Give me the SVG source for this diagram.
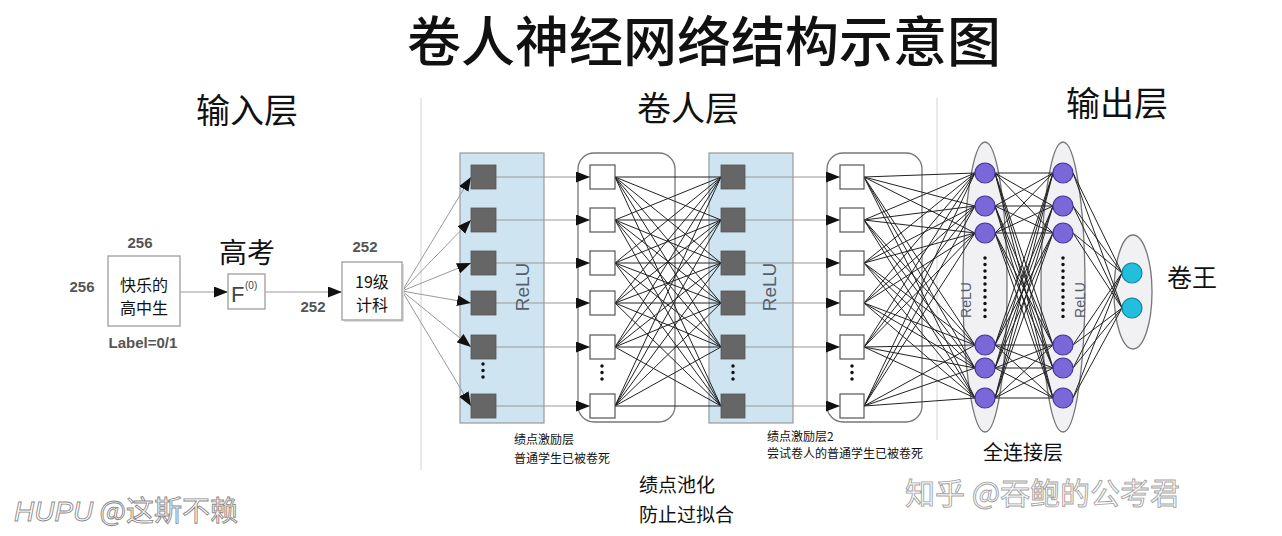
<svg xmlns="http://www.w3.org/2000/svg" width="1282" height="536" viewBox="0 0 1282 536">
<defs>
<marker id="ah" viewBox="0 0 14 11" refX="14" refY="5.5" markerWidth="14" markerHeight="11" markerUnits="userSpaceOnUse" orient="auto">
<path d="M0 0L14 5.5L0 11z" fill="#111"/>
</marker>
<style>
.cjk{font-family:"Noto Sans CJK SC","Noto Sans",sans-serif;fill:#111}
.num{font-family:"Liberation Sans",Arial,sans-serif;font-weight:bold;fill:#555;font-size:15px}
.box{fill:#fff;stroke:#aaa;stroke-width:1.5}
.panel{fill:#cfe4f1;stroke:#999;stroke-width:1.2}
.rpanel{fill:#fff;stroke:#777;stroke-width:1.3}
.dk{fill:#666;stroke:#555;stroke-width:0.8}
.wt{fill:#fff;stroke:#555;stroke-width:1.2}
.ell{fill:#f1f1f3;stroke:#777;stroke-width:1.3}
.pc{fill:#7a67d8;stroke:#45389e;stroke-width:1.2}
.cc{fill:#22bedd;stroke:#15869f;stroke-width:1.2}
.relu{font-family:"Liberation Sans",Arial,sans-serif;fill:#55606c}
.gl{stroke:#999;stroke-width:1;fill:none}
.bl{stroke:#222;stroke-width:1;fill:none}
.dots{stroke:#111;stroke-width:3.5;stroke-linecap:round;stroke-dasharray:0 6.5}
.sep{stroke:#e2e2e2;stroke-width:1.5}
.wm{font-family:"Noto Sans CJK SC","Liberation Sans",sans-serif;fill:#fff;stroke:#8a8a8a;stroke-width:0.9}
</style>
</defs>
<rect width="1282" height="536" fill="#fff"/>

<g id="separators">
<line class="sep" x1="421" y1="98" x2="421" y2="470"/>
<line class="sep" x1="937" y1="98" x2="937" y2="440"/>
</g>

<g id="titles">
<text class="cjk" x="704" y="62" font-size="54" font-weight="500" text-anchor="middle">卷人神经网络结构示意图</text>
<text class="cjk" x="247" y="123" font-size="34" text-anchor="middle">输入层</text>
<text class="cjk" x="688" y="121" font-size="34" text-anchor="middle">卷人层</text>
<text class="cjk" x="1117" y="116" font-size="34" text-anchor="middle">输出层</text>
</g>

<g id="backgrounds">
<rect class="panel" x="460" y="153" width="84" height="270"/>
<rect class="rpanel" x="578" y="153" width="97" height="269" rx="16"/>
<rect class="panel" x="709" y="153" width="84" height="270"/>
<rect class="rpanel" x="827" y="153" width="95" height="269" rx="16"/>
<ellipse class="ell" cx="985" cy="287" rx="22" ry="145"/>
<ellipse class="ell" cx="1063" cy="287" rx="22" ry="145"/>
<ellipse class="ell" cx="1133" cy="292" rx="19" ry="57"/>
</g>

<g id="connectors">
<line class="gl" x1="180" y1="292" x2="228" y2="292" marker-end="url(#ah)"/>
<line class="gl" x1="265" y1="292" x2="342" y2="292" marker-end="url(#ah)"/>
<g class="gl" marker-end="url(#ah)">
<line x1="402" y1="291" x2="471" y2="177"/>
<line x1="402" y1="291" x2="471" y2="220"/>
<line x1="402" y1="291" x2="471" y2="263"/>
<line x1="402" y1="291" x2="471" y2="303"/>
<line x1="402" y1="291" x2="471" y2="347"/>
<line x1="402" y1="291" x2="471" y2="406"/>
<line x1="496" y1="177" x2="590" y2="177"/>
<line x1="496" y1="220" x2="590" y2="220"/>
<line x1="496" y1="263" x2="590" y2="263"/>
<line x1="496" y1="303" x2="590" y2="303"/>
<line x1="496" y1="347" x2="590" y2="347"/>
<line x1="496" y1="406" x2="590" y2="406"/>
<line x1="745" y1="177" x2="840" y2="177"/>
<line x1="745" y1="220" x2="840" y2="220"/>
<line x1="745" y1="263" x2="840" y2="263"/>
<line x1="745" y1="303" x2="840" y2="303"/>
<line x1="745" y1="347" x2="840" y2="347"/>
<line x1="745" y1="406" x2="840" y2="406"/>
</g>
<path class="bl" d="M615 177L721 177M615 177L721 220M615 177L721 263M615 177L721 303M615 177L721 347M615 177L721 406M615 220L721 177M615 220L721 220M615 220L721 263M615 220L721 303M615 220L721 347M615 220L721 406M615 263L721 177M615 263L721 220M615 263L721 263M615 263L721 303M615 263L721 347M615 263L721 406M615 303L721 177M615 303L721 220M615 303L721 263M615 303L721 303M615 303L721 347M615 303L721 406M615 347L721 177M615 347L721 220M615 347L721 263M615 347L721 303M615 347L721 347M615 347L721 406M615 406L721 177M615 406L721 220M615 406L721 263M615 406L721 303M615 406L721 347M615 406L721 406"/>
<path class="bl" d="M864 177L975 173M864 177L975 206M864 177L975 233M864 177L975 345M864 177L975 368M864 177L975 398M864 220L975 173M864 220L975 206M864 220L975 233M864 220L975 345M864 220L975 368M864 220L975 398M864 263L975 173M864 263L975 206M864 263L975 233M864 263L975 345M864 263L975 368M864 263L975 398M864 303L975 173M864 303L975 206M864 303L975 233M864 303L975 345M864 303L975 368M864 303L975 398M864 347L975 173M864 347L975 206M864 347L975 233M864 347L975 345M864 347L975 368M864 347L975 398M864 406L975 173M864 406L975 206M864 406L975 233M864 406L975 345M864 406L975 368M864 406L975 398"/>
<path class="bl" d="M995 173L1053 173M995 173L1053 206M995 173L1053 233M995 173L1053 345M995 173L1053 368M995 173L1053 398M995 206L1053 173M995 206L1053 206M995 206L1053 233M995 206L1053 345M995 206L1053 368M995 206L1053 398M995 233L1053 173M995 233L1053 206M995 233L1053 233M995 233L1053 345M995 233L1053 368M995 233L1053 398M995 345L1053 173M995 345L1053 206M995 345L1053 233M995 345L1053 345M995 345L1053 368M995 345L1053 398M995 368L1053 173M995 368L1053 206M995 368L1053 233M995 368L1053 345M995 368L1053 368M995 368L1053 398M995 398L1053 173M995 398L1053 206M995 398L1053 233M995 398L1053 345M995 398L1053 368M995 398L1053 398"/>
<path class="bl" d="M1073 173L1122 273M1073 173L1122 308M1073 206L1122 273M1073 206L1122 308M1073 233L1122 273M1073 233L1122 308M1073 345L1122 273M1073 345L1122 308M1073 368L1122 273M1073 368L1122 308M1073 398L1122 273M1073 398L1122 308"/>
</g>

<g id="input-node">
<rect class="box" x="108" y="256" width="72" height="70"/>
<text class="cjk" x="144" y="291" font-size="16" text-anchor="middle">快乐的</text>
<text class="cjk" x="144" y="314" font-size="16" text-anchor="middle">高中生</text>
<text class="num" x="140" y="248" text-anchor="middle">256</text>
<text class="num" x="82" y="292" text-anchor="middle">256</text>
<text class="num" x="143" y="348" text-anchor="middle" font-size="14" font-weight="normal" fill="#666">Label=0/1</text>
</g>

<g id="f-node">
<text class="cjk" x="247" y="263" font-size="28" text-anchor="middle">高考</text>
<rect class="box" x="228" y="274" width="37" height="35" stroke="#888"/>
<text x="231" y="302" font-family="Liberation Sans,Arial,sans-serif" font-size="22" fill="#444">F</text>
<text x="245" y="289" font-family="Liberation Sans,Arial,sans-serif" font-size="10" fill="#444">(0)</text>
</g>

<g id="class-node">
<text class="num" x="365" y="252" text-anchor="middle">252</text>
<text class="num" x="313" y="312" text-anchor="middle">252</text>
<rect x="344" y="264" width="60" height="58" fill="#ddd"/>
<rect class="box" x="342" y="262" width="60" height="58" fill="#f7f7f7"/>
<text class="cjk" x="372" y="288" font-size="16" text-anchor="middle">19级</text>
<text class="cjk" x="372" y="311" font-size="16" text-anchor="middle">计科</text>
</g>

<g id="relu-layer-1">
<rect class="dk" x="471" y="165" width="25" height="24"/>
<rect class="dk" x="471" y="208" width="25" height="24"/>
<rect class="dk" x="471" y="251" width="25" height="24"/>
<rect class="dk" x="471" y="291" width="25" height="24"/>
<rect class="dk" x="471" y="335" width="25" height="24"/>
<rect class="dk" x="471" y="394" width="25" height="24"/>
<line class="dots" x1="483" y1="364" x2="483" y2="378"/>
<text class="relu" transform="translate(529 287) rotate(-90)" font-size="19" text-anchor="middle">ReLU</text>
</g>

<g id="pool-layer-1">
<rect class="wt" x="590" y="165" width="25" height="24"/>
<rect class="wt" x="590" y="208" width="25" height="24"/>
<rect class="wt" x="590" y="251" width="25" height="24"/>
<rect class="wt" x="590" y="291" width="25" height="24"/>
<rect class="wt" x="590" y="335" width="25" height="24"/>
<rect class="wt" x="590" y="394" width="25" height="24"/>
<line class="dots" x1="602" y1="366" x2="602" y2="380"/>
</g>

<g id="relu-layer-2">
<rect class="dk" x="721" y="165" width="24" height="24"/>
<rect class="dk" x="721" y="208" width="24" height="24"/>
<rect class="dk" x="721" y="251" width="24" height="24"/>
<rect class="dk" x="721" y="291" width="24" height="24"/>
<rect class="dk" x="721" y="335" width="24" height="24"/>
<rect class="dk" x="721" y="394" width="24" height="24"/>
<line class="dots" x1="733" y1="366" x2="733" y2="380"/>
<text class="relu" transform="translate(776 287) rotate(-90)" font-size="19" text-anchor="middle">ReLU</text>
</g>

<g id="pool-layer-2">
<rect class="wt" x="840" y="165" width="24" height="24"/>
<rect class="wt" x="840" y="208" width="24" height="24"/>
<rect class="wt" x="840" y="251" width="24" height="24"/>
<rect class="wt" x="840" y="291" width="24" height="24"/>
<rect class="wt" x="840" y="335" width="24" height="24"/>
<rect class="wt" x="840" y="394" width="24" height="24"/>
<line class="dots" x1="852" y1="366" x2="852" y2="380"/>
</g>

<g id="fc-layer-1">
<circle class="pc" cx="985" cy="173" r="10"/>
<circle class="pc" cx="985" cy="206" r="10"/>
<circle class="pc" cx="985" cy="233" r="10"/>
<circle class="pc" cx="985" cy="345" r="10"/>
<circle class="pc" cx="985" cy="368" r="10"/>
<circle class="pc" cx="985" cy="398" r="10"/>
<line class="dots" x1="985" y1="258" x2="985" y2="322"/>
<text class="relu" transform="translate(971 300) rotate(-90)" font-size="14" text-anchor="middle">ReLU</text>
</g>

<g id="fc-layer-2">
<circle class="pc" cx="1063" cy="173" r="10"/>
<circle class="pc" cx="1063" cy="206" r="10"/>
<circle class="pc" cx="1063" cy="233" r="10"/>
<circle class="pc" cx="1063" cy="345" r="10"/>
<circle class="pc" cx="1063" cy="368" r="10"/>
<circle class="pc" cx="1063" cy="398" r="10"/>
<line class="dots" x1="1063" y1="258" x2="1063" y2="322"/>
<text class="relu" transform="translate(1085 300) rotate(-90)" font-size="14" text-anchor="middle">ReLU</text>
</g>

<g id="output-node">
<circle class="cc" cx="1132" cy="273" r="10"/>
<circle class="cc" cx="1132" cy="308" r="10"/>
<text class="cjk" x="1167" y="287" font-size="25">卷王</text>
</g>

<g id="labels">
<text class="cjk" x="514" y="444" font-size="12">绩点激励层</text>
<text class="cjk" x="514" y="463" font-size="12">普通学生已被卷死</text>
<text class="cjk" x="639" y="492" font-size="19">绩点池化</text>
<text class="cjk" x="639" y="522" font-size="19">防止过拟合</text>
<text class="cjk" x="767" y="441" font-size="12">绩点激励层2</text>
<text class="cjk" x="767" y="458" font-size="12">尝试卷人的普通学生已被卷死</text>
<text class="cjk" x="983" y="460" font-size="20">全连接层</text>
</g>

<g id="watermarks">
<text class="wm" x="14" y="521" font-size="28"><tspan font-style="italic" font-family="Liberation Sans,Arial,sans-serif">HUPU</tspan> @这斯不赖</text>
<text class="wm" x="905" y="504" font-size="30" opacity="0.8">知乎 @吞鲍的公考君</text>
</g>
</svg>
